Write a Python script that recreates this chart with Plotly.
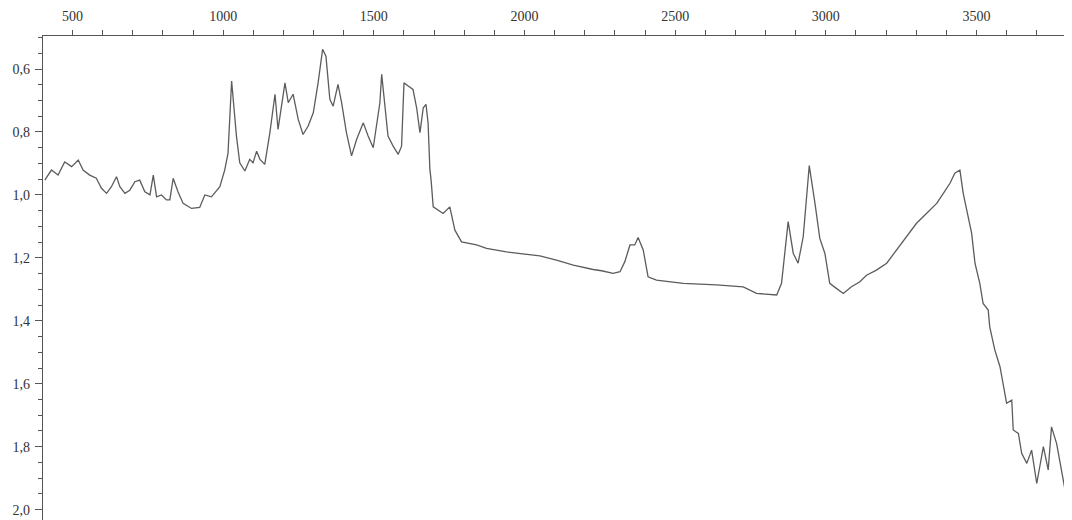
import plotly.graph_objects as go

# Wavenumber (cm-1) and absorbance values
wavenumber = [408, 430, 452, 474, 497, 519, 535, 557, 579, 596, 613, 629, 646, 657, 674, 690,
              707, 723, 740, 757, 768, 779, 795, 812, 823, 834, 850, 867, 895, 922, 939, 961,
              989, 1005, 1016, 1022, 1028, 1044, 1055, 1072, 1088, 1099, 1111, 1122, 1138, 1155,
              1172, 1182, 1194, 1205, 1216, 1232, 1249, 1265, 1282, 1299, 1315, 1330, 1341, 1354,
              1365, 1381, 1393, 1409, 1426, 1443, 1465, 1481, 1498, 1520, 1526, 1537, 1547, 1564,
              1581, 1592, 1600, 1614, 1630, 1642, 1653, 1664, 1673, 1680, 1686, 1690, 1697, 1730,
              1752, 1769, 1791, 1841, 1874, 1940, 1985, 2051, 2106, 2162, 2228, 2256, 2294, 2317,
              2333, 2350, 2366, 2377, 2394, 2410, 2438, 2527, 2637, 2726, 2770, 2837, 2853, 2875,
              2892, 2908, 2925, 2945, 2964, 2980, 2997, 3013, 3035, 3058, 3085, 3113, 3135, 3168,
              3202, 3235, 3268, 3301, 3334, 3368, 3390, 3412, 3428, 3445, 3456, 3467, 3484, 3495,
              3511, 3522, 3539, 3544, 3561, 3578, 3589, 3600, 3617, 3622, 3639, 3650, 3667, 3683,
              3700, 3722, 3738, 3749, 3766, 3777, 3794, 3810, 3816]
absorbance = [0.953, 0.921, 0.937, 0.895, 0.910, 0.889, 0.921, 0.937, 0.947, 0.979, 0.995, 0.974,
              0.942, 0.974, 0.995, 0.985, 0.958, 0.953, 0.990, 1.000, 0.937, 1.006, 1.000, 1.016,
              1.016, 0.947, 0.990, 1.027, 1.043, 1.040, 1.000, 1.006, 0.974, 0.921, 0.868, 0.762,
              0.638, 0.813, 0.898, 0.924, 0.887, 0.898, 0.861, 0.887, 0.903, 0.802, 0.680, 0.792,
              0.718, 0.644, 0.707, 0.680, 0.760, 0.808, 0.781, 0.739, 0.644, 0.537, 0.559, 0.696,
              0.718, 0.649, 0.707, 0.802, 0.876, 0.823, 0.771, 0.813, 0.850, 0.707, 0.617, 0.728,
              0.813, 0.845, 0.871, 0.845, 0.644, 0.654, 0.665, 0.723, 0.802, 0.723, 0.712, 0.771,
              0.919, 0.953, 1.038, 1.059, 1.038, 1.112, 1.149, 1.159, 1.170, 1.181, 1.186, 1.194,
              1.207, 1.223, 1.237, 1.241, 1.249, 1.244, 1.212, 1.159, 1.159, 1.135, 1.175, 1.260,
              1.271, 1.281, 1.286, 1.292, 1.313, 1.318, 1.281, 1.085, 1.186, 1.217, 1.133, 0.907,
              1.027, 1.138, 1.186, 1.281, 1.297, 1.313, 1.292, 1.276, 1.255, 1.239, 1.217, 1.175,
              1.133, 1.090, 1.059, 1.027, 0.995, 0.963, 0.931, 0.921, 0.995, 1.048, 1.122, 1.217,
              1.281, 1.345, 1.366, 1.419, 1.493, 1.546, 1.599, 1.662, 1.652, 1.747, 1.758, 1.821,
              1.853, 1.811, 1.917, 1.800, 1.874, 1.737, 1.790, 1.853, 1.938, 1.853, 1.980]

x_tickvals = [500, 1000, 1500, 2000, 2500, 3000, 3500]
x_ticktext = ["500", "1000", "1500", "2000", "2500", "3000", "3500"]
y_tickvals = [0.6, 0.8, 1.0, 1.2, 1.4, 1.6, 1.8, 2.0]
y_ticktext = ["0,6", "0,8", "1,0", "1,2", "1,4", "1,6", "1,8", "2,0"]

fig = go.Figure()
fig.add_trace(go.Scatter(
    x=wavenumber, y=absorbance, mode="lines",
    line=dict(color="#5c5c5c", width=1.3),
    showlegend=False, hoverinfo="skip",
))

axis_font = dict(family="Liberation Serif, Times New Roman, serif", size=14, color="#333333")

# The page body adds an 8px offset, so the figure is sized/margined to compensate
fig.update_layout(
    width=1064, height=512,
    margin=dict(l=35, r=0, t=28, b=0, pad=0),
    paper_bgcolor="white", plot_bgcolor="white",
    xaxis=dict(
        side="top", range=[402, 3817], automargin=False,
        tickmode="array", tickvals=x_tickvals, ticktext=x_ticktext,
        ticks="outside", ticklen=5, tickwidth=1, tickcolor="#555555",
        minor=dict(ticks="outside", tick0=0, dtick=100, ticklen=5, tickwidth=1, tickcolor="#555555"),
        showline=True, linecolor="#555555", linewidth=1.3,
        showgrid=False, zeroline=False, tickfont=axis_font, ticklabelstandoff=3,
    ),
    yaxis=dict(
        range=[2.033, 0.495], automargin=False,
        tickmode="array", tickvals=y_tickvals, ticktext=y_ticktext,
        ticks="outside", ticklen=7, tickwidth=1, tickcolor="#555555",
        minor=dict(ticks="outside", tick0=0.5, dtick=0.05, ticklen=4, tickwidth=1, tickcolor="#555555"),
        showline=True, linecolor="#555555", linewidth=1.3,
        showgrid=False, zeroline=False, tickfont=axis_font, ticklabelstandoff=2,
    ),
)

fig.write_html("out.html")
